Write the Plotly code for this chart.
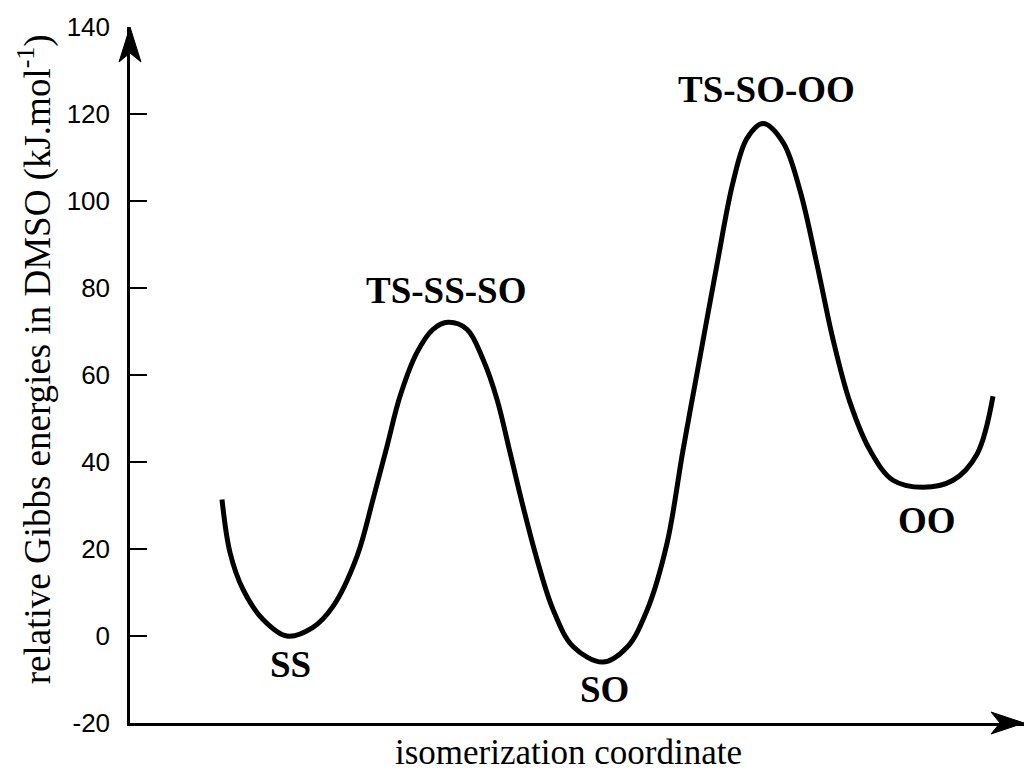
import plotly.graph_objects as go

# energy profile along the isomerization coordinate (arbitrary units)
coord = [92, 100, 113, 133, 157, 183, 203, 227, 243, 257, 270, 287, 303, 318, 337, 353, 367,
         380, 393, 407, 423, 443, 473, 497, 517, 537, 553, 570, 587, 603, 617, 633, 653,
         670, 687, 703, 720, 740, 763, 793, 823, 847, 863]
energy = [31.4, 19.2, 10.7, 3.8, 0.0, 2.0, 6.8, 18.3, 31.4, 43.6, 55.1, 65.2, 70.5, 72.1, 70.5,
          63.6, 54.4, 42.2, 29.8, 17.6, 6.1, -2.4, -6.0, -2.6, 5.9, 21.3, 42.7, 64.1, 85.4,
          104.3, 114.4, 117.8, 113.5, 102.4, 85.4, 68.2, 53.7, 42.7, 35.8, 34.2, 35.8, 41.8, 55.1]

# state labels and where they sit
state_names = ["SS", "TS-SS-SO", "SO", "TS-SO-OO", "OO"]
state_x = [160, 316, 474, 636, 797]
state_y = [-6.6, 79.4, -12.4, 125.7, 26.6]

y_ticks = [-20, 0, 20, 40, 60, 80, 100, 120, 140]
y_tick_text = ["-20", "0", "20", "40", "60", "80", "100", "120", "140"]

fig = go.Figure()
fig.add_trace(go.Scatter(x=coord, y=energy, mode="lines",
                         line=dict(color="black", width=5, shape="spline", smoothing=1.0),
                         hoverinfo="skip", showlegend=False))

for name, sx, sy in zip(state_names, state_x, state_y):
    fig.add_annotation(x=sx, y=sy, text="<b>%s</b>" % name, showarrow=False,
                       font=dict(family="Liberation Serif", size=37, color="black"))

# arrow heads on both axes (paper refs so they are not clipped)
fig.add_shape(type="path", xref="paper", yref="paper", xsizemode="pixel", ysizemode="pixel",
              xanchor=0, yanchor=1, path="M0,0 L-11,-35 L0,-26 L11,-35 Z",
              fillcolor="black", line=dict(color="black", width=1))
fig.add_shape(type="path", xref="paper", yref="paper", xsizemode="pixel", ysizemode="pixel",
              xanchor=1, yanchor=0, path="M0,0 L-33,11 L-24,0 L-33,-11 Z",
              fillcolor="black", line=dict(color="black", width=1))

fig.add_annotation(x=0.491, y=-0.043, xref="paper", yref="paper", yanchor="middle",
                   text="isomerization coordinate", showarrow=False,
                   font=dict(family="Liberation Serif", size=35, color="black"))
fig.add_annotation(x=-0.106, y=0.523, xref="paper", yref="paper", xanchor="center",
                   text="relative Gibbs energies in DMSO (kJ.mol<sup>-1</sup>)", textangle=-90,
                   showarrow=False, font=dict(family="Liberation Serif", size=37, color="black"))

fig.update_xaxes(range=[0, 894], showline=True, linecolor="black", linewidth=2.5,
                 showticklabels=False, ticks="", showgrid=False, zeroline=False)
fig.update_yaxes(range=[-20, 140], tickvals=y_ticks, ticktext=y_tick_text, showline=True,
                 linecolor="black", linewidth=2.5,
                 ticks="inside", ticklen=17, tickwidth=2, tickcolor="black", ticklabelstandoff=12,
                 showgrid=False, zeroline=False,
                 tickfont=dict(family="Liberation Sans", size=26, color="black"))

fig.update_layout(width=1026, height=772, plot_bgcolor="white", paper_bgcolor="white",
                  margin=dict(l=130, r=2, t=27, b=49))
fig.write_html("out.html", config={"displayModeBar": False},
               post_script="document.body.style.margin='0px';")
